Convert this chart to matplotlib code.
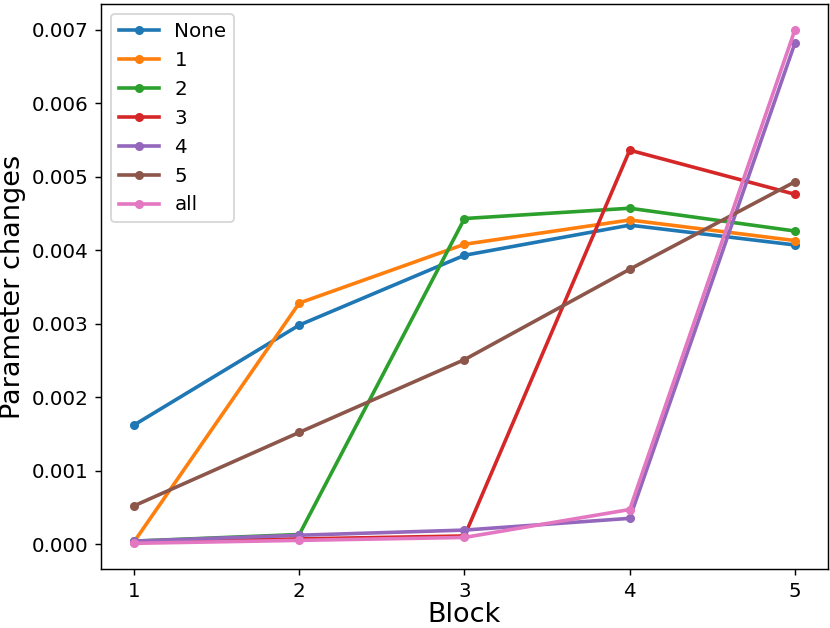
import matplotlib
matplotlib.use("Agg")
import matplotlib.pyplot as plt

blocks = [1, 2, 3, 4, 5]
labels = ["None", "1", "2", "3", "4", "5", "all"]
none_vals = [0.00162, 0.00298, 0.00393, 0.00434, 0.00407]
b1_vals = [0.00003, 0.00328, 0.00408, 0.00441, 0.00413]
b2_vals = [0.00004, 0.00013, 0.00443, 0.00457, 0.00426]
b3_vals = [0.00003, 0.00007, 0.00011, 0.00536, 0.00476]
b4_vals = [0.00004, 0.00012, 0.00019, 0.00035, 0.00682]
b5_vals = [0.00052, 0.00152, 0.00251, 0.00374, 0.00493]
all_vals = [0.00001, 0.00005, 0.00009, 0.00047, 0.00700]
series = [none_vals, b1_vals, b2_vals, b3_vals, b4_vals, b5_vals, all_vals]

fig = plt.figure(figsize=(830 / 130, 628 / 130), dpi=130)
ax = fig.add_axes([101 / 830, 59 / 628, 727 / 830, 565 / 628])

for vals, lab in zip(series, labels):
    ax.plot(blocks, vals, marker="o", markersize=4, linewidth=2, label=lab)

ax.set_xticks(blocks)
ax.set_xlabel("Block", fontsize=15, labelpad=1)
ax.set_ylabel("Parameter changes", fontsize=15, labelpad=3)
ax.tick_params(labelsize=11)
ax.legend(loc="upper left", fontsize=11)

fig.savefig("out.png", dpi=130)
